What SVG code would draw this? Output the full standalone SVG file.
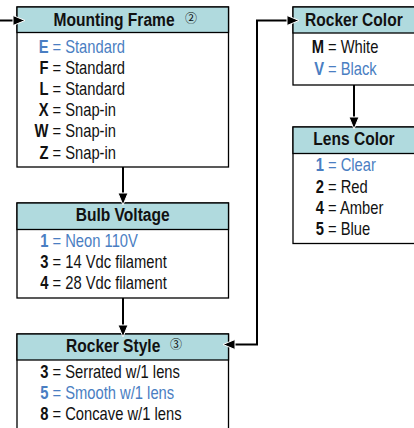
<svg xmlns="http://www.w3.org/2000/svg" width="414" height="428" viewBox="0 0 414 428">
<style>
.box{fill:#fff;stroke:#000;stroke-width:1.3}
.hdr{fill:#b0dade;stroke:#000;stroke-width:1.3}
text{font-family:"Liberation Sans","Arial",sans-serif;font-size:18px;fill:#111}
.h{font-weight:bold;font-size:19px}
.c{font-weight:bold;text-anchor:end}
.b{fill:#4a7ec2}
.n{font-family:"Noto Sans CJK JP","DejaVu Sans",sans-serif;font-size:12px}
.conn{fill:none;stroke:#000;stroke-width:2}
.ah{fill:#000;stroke:#fff;stroke-width:1}
</style>
<g id="mounting-frame">
<rect class="box" x="17" y="7" width="211.5" height="160"/>
<rect class="hdr" x="17" y="7" width="211.5" height="25.5"/>
<text class="n" x="185" y="22.5">②</text>
<g transform="scale(0.82 1)">
<text class="h" x="65.24" y="26">Mounting Frame</text>
<text class="c b" x="59.15" y="52.7">E</text><text class="b" x="64.02" y="52.7">= Standard</text>
<text class="c" x="59.15" y="73.9">F</text><text x="64.02" y="73.9">= Standard</text>
<text class="c" x="59.15" y="95.1">L</text><text x="64.02" y="95.1">= Standard</text>
<text class="c" x="59.15" y="116.3">X</text><text x="64.02" y="116.3">= Snap-in</text>
<text class="c" x="59.15" y="137.5">W</text><text x="64.02" y="137.5">= Snap-in</text>
<text class="c" x="59.15" y="158.7">Z</text><text x="64.02" y="158.7">= Snap-in</text>
</g>
</g>
<g id="bulb-voltage">
<rect class="box" x="17" y="203" width="211.5" height="95"/>
<rect class="hdr" x="17" y="203" width="211.5" height="26.5"/>
<g transform="scale(0.82 1)">
<text class="h" x="149.63" y="221" text-anchor="middle">Bulb Voltage</text>
<text class="c b" x="59.15" y="247">1</text><text class="b" x="64.02" y="247">= Neon 110V</text>
<text class="c" x="59.15" y="268.2">3</text><text x="64.02" y="268.2">= 14 Vdc filament</text>
<text class="c" x="59.15" y="289.4">4</text><text x="64.02" y="289.4">= 28 Vdc filament</text>
</g>
</g>
<g id="rocker-style">
<rect class="box" x="17" y="334" width="211.5" height="110"/>
<rect class="hdr" x="17" y="334" width="211.5" height="26"/>
<text class="n" x="170" y="349">③</text>
<g transform="scale(0.82 1)">
<text class="h" x="80.49" y="352">Rocker Style</text>
<text class="c" x="59.15" y="378">3</text><text x="64.02" y="378">= Serrated w/1 lens</text>
<text class="c b" x="59.15" y="399.2">5</text><text class="b" x="64.02" y="399.2">= Smooth w/1 lens</text>
<text class="c" x="59.15" y="420.4">8</text><text x="64.02" y="420.4">= Concave w/1 lens</text>
</g>
</g>
<g id="rocker-color">
<rect class="box" x="293" y="7" width="140" height="78"/>
<rect class="hdr" x="293" y="7" width="140" height="26"/>
<g transform="scale(0.82 1)">
<text class="h" x="371.95" y="26">Rocker Color</text>
<text class="c" x="395.12" y="53">M</text><text x="400" y="53">= White</text>
<text class="c b" x="395.12" y="75.5">V</text><text class="b" x="400" y="75.5">= Black</text>
</g>
</g>
<g id="lens-color">
<rect class="box" x="293" y="127" width="140" height="116.5"/>
<rect class="hdr" x="293" y="127" width="140" height="26.5"/>
<g transform="scale(0.82 1)">
<text class="h" x="382.07" y="145">Lens Color</text>
<text class="c b" x="395.12" y="171.5">1</text><text class="b" x="400" y="171.5">= Clear</text>
<text class="c" x="395.12" y="192.7">2</text><text x="400" y="192.7">= Red</text>
<text class="c" x="395.12" y="213.9">4</text><text x="400" y="213.9">= Amber</text>
<text class="c" x="395.12" y="235.1">5</text><text x="400" y="235.1">= Blue</text>
</g>
</g>
<g id="connectors">
<path class="conn" d="M0 20.5H14"/>
<polygon class="ah" points="25,20.5 13,15.5 13,25.5"/>
<path class="conn" d="M123 167V194"/>
<polygon class="ah" points="123,205 118,193 128,193"/>
<path class="conn" d="M123 298V326"/>
<polygon class="ah" points="123,337 118,325 128,325"/>
<path class="conn" d="M235 344.5H257V20.5H288"/>
<polygon class="ah" points="223,344.5 235,339.5 235,349.5"/>
<polygon class="ah" points="299,20.5 287,15.5 287,25.5"/>
<path class="conn" d="M354 85V118"/>
<polygon class="ah" points="354,129 349,117 359,117"/>
</g>
</svg>
